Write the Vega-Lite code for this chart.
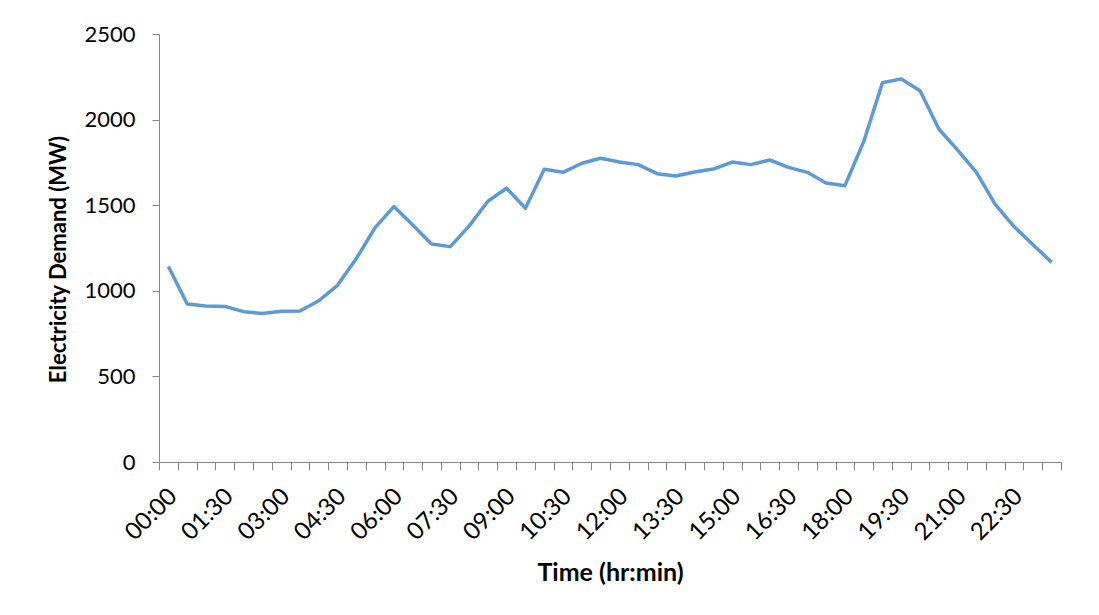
{
  "$schema": "https://vega.github.io/schema/vega-lite/v6.json",
  "width": 902,
  "height": 428,
  "autosize": {"type": "none"},
  "padding": {"left": 159, "top": 34, "right": 38, "bottom": 153},
  "background": "white",
  "config": {"view": {"stroke": null}, "font": "Lato"},
  "data": {
    "values": [
      {"t": "00:00", "mw": 1142}, {"t": "00:30", "mw": 923}, {"t": "01:00", "mw": 911}, {"t": "01:30", "mw": 909},
      {"t": "02:00", "mw": 878}, {"t": "02:30", "mw": 868}, {"t": "03:00", "mw": 880}, {"t": "03:30", "mw": 882},
      {"t": "04:00", "mw": 942}, {"t": "04:30", "mw": 1032}, {"t": "05:00", "mw": 1188}, {"t": "05:30", "mw": 1369},
      {"t": "06:00", "mw": 1492}, {"t": "06:30", "mw": 1384}, {"t": "07:00", "mw": 1273}, {"t": "07:30", "mw": 1258},
      {"t": "08:00", "mw": 1378}, {"t": "08:30", "mw": 1523}, {"t": "09:00", "mw": 1599}, {"t": "09:30", "mw": 1482},
      {"t": "10:00", "mw": 1710}, {"t": "10:30", "mw": 1692}, {"t": "11:00", "mw": 1745}, {"t": "11:30", "mw": 1774},
      {"t": "12:00", "mw": 1752}, {"t": "12:30", "mw": 1737}, {"t": "13:00", "mw": 1684}, {"t": "13:30", "mw": 1671},
      {"t": "14:00", "mw": 1694}, {"t": "14:30", "mw": 1711}, {"t": "15:00", "mw": 1752}, {"t": "15:30", "mw": 1737},
      {"t": "16:00", "mw": 1764}, {"t": "16:30", "mw": 1721}, {"t": "17:00", "mw": 1692}, {"t": "17:30", "mw": 1630},
      {"t": "18:00", "mw": 1614}, {"t": "18:30", "mw": 1871}, {"t": "19:00", "mw": 2216}, {"t": "19:30", "mw": 2237},
      {"t": "20:00", "mw": 2169}, {"t": "20:30", "mw": 1945}, {"t": "21:00", "mw": 1822}, {"t": "21:30", "mw": 1692},
      {"t": "22:00", "mw": 1505}, {"t": "22:30", "mw": 1375}, {"t": "23:00", "mw": 1271}, {"t": "23:30", "mw": 1166}
    ]
  },
  "mark": {"type": "line", "color": "#5B9BD5", "strokeWidth": 3.5, "strokeJoin": "round"},
  "encoding": {
    "x": {
      "field": "t",
      "type": "ordinal",
      "sort": null,
      "bandPosition": 0.5,
      "scale": {"type": "band", "paddingInner": 0, "paddingOuter": 0},
      "axis": {
        "title": "Time (hr:min)",
        "titleFont": "Lato",
        "titleFontSize": 25,
        "titleFontWeight": "bold",
        "titleColor": "#000000",
        "titlePadding": 16,
        "tickBand": "extent",
        "tickSize": 8,
        "tickColor": "#868686",
        "domainColor": "#868686",
        "labelAngle": -45,
        "labelFontSize": 24,
        "labelColor": "#000000",
        "labelPadding": 14,
        "labelOffset": -4,
        "labelOverlap": false,
        "labelExpr": "(toNumber(substring(datum.value,0,2))*60 + toNumber(substring(datum.value,3,5))) % 90 == 0 ? datum.value : ''",
        "grid": false
      }
    },
    "y": {
      "field": "mw",
      "type": "quantitative",
      "scale": {"domain": [0, 2500]},
      "axis": {
        "title": "Electricity Demand (MW)",
        "titleFont": "Lato",
        "titleFontSize": 22,
        "titleFontWeight": "bold",
        "titleColor": "#000000",
        "titlePadding": 13,
        "titleY": 225,
        "values": [0, 500, 1000, 1500, 2000, 2500],
        "format": "d",
        "tickSize": 7,
        "tickColor": "#868686",
        "domainColor": "#868686",
        "labelFontSize": 22,
        "labelColor": "#000000",
        "labelPadding": 17,
        "grid": false
      }
    }
  }
}
